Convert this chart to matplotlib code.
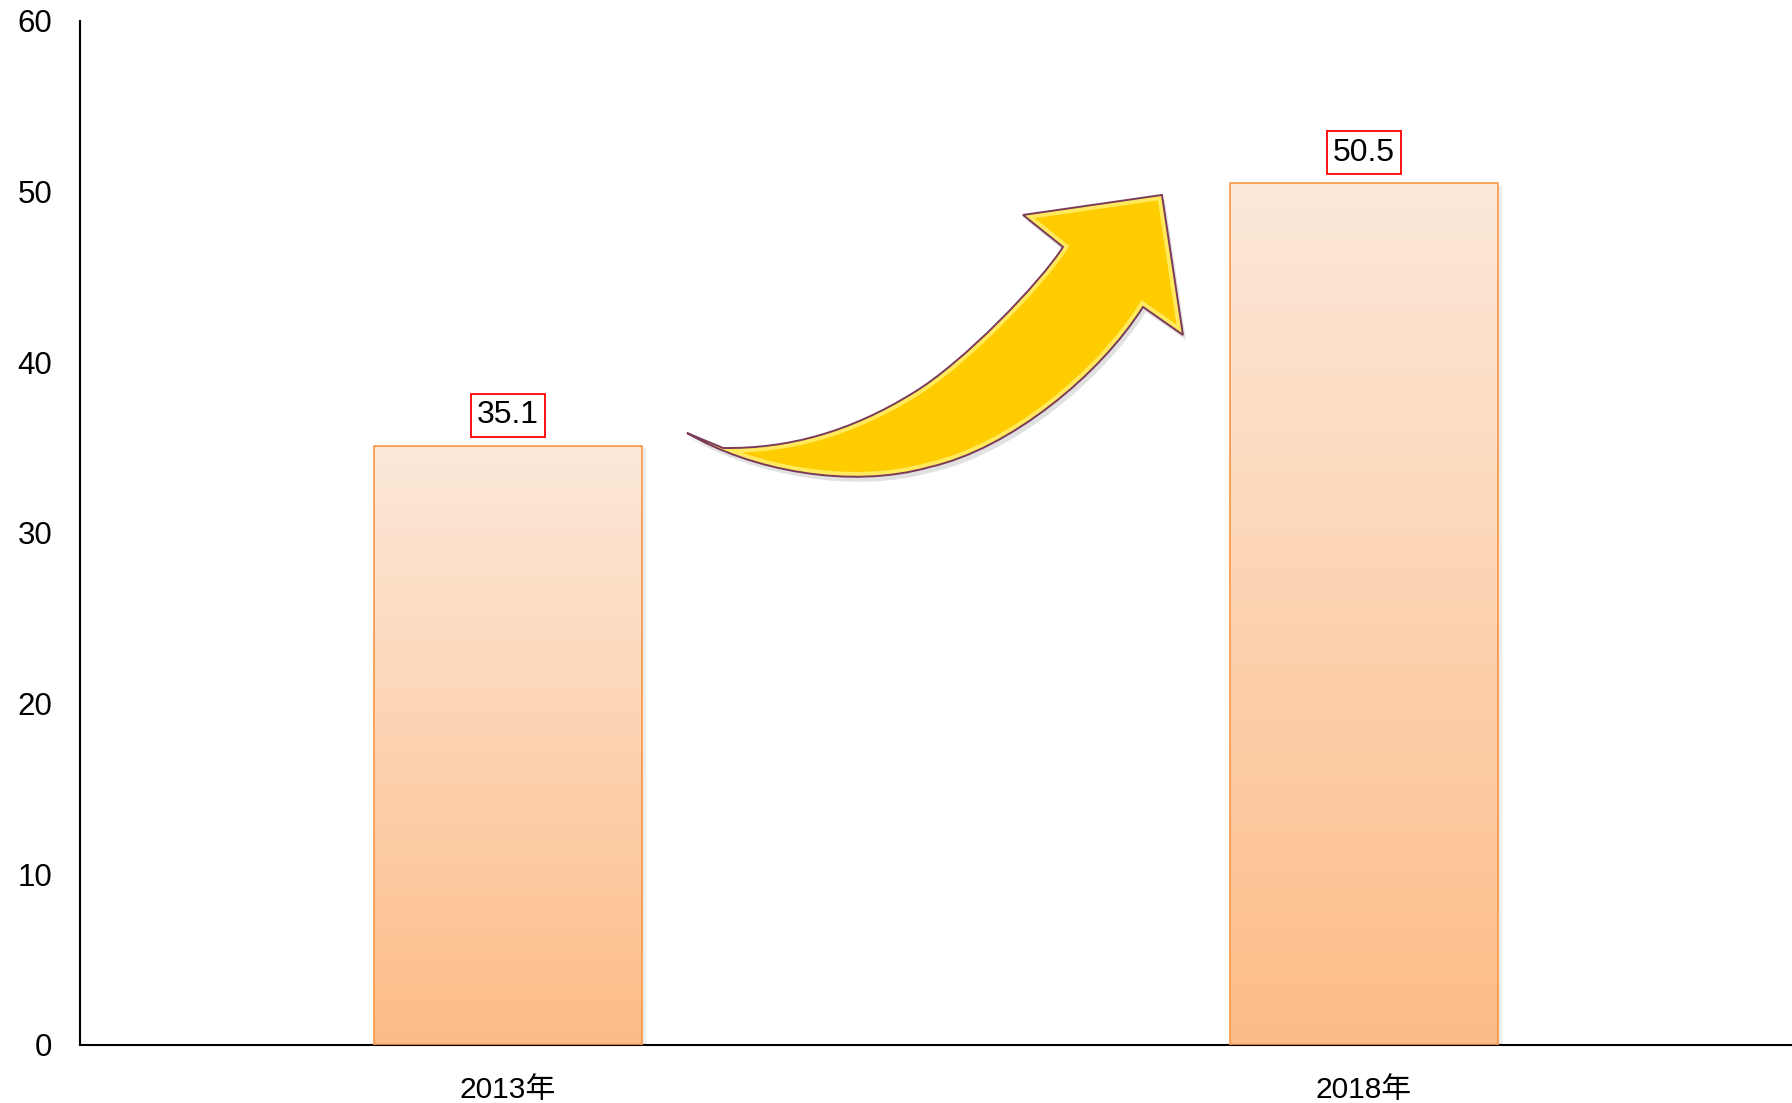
import numpy as np
import matplotlib
matplotlib.use("Agg")
import matplotlib.pyplot as plt
from matplotlib.path import Path
from matplotlib.patches import PathPatch
from matplotlib.colors import LinearSegmentedColormap
from matplotlib.transforms import ScaledTranslation

plt.rcParams['font.family'] = ['Liberation Sans', 'Noto Sans CJK SC', 'DejaVu Sans']

# data
years = ['2013年', '2018年']
values = [35.1, 50.5]
y_ticks = [0, 10, 20, 30, 40, 50, 60]

fig = plt.figure(figsize=(17.92, 11.03), dpi=100)
ax = fig.add_axes([0.0446, 0.0526, 0.9554, 0.9284])

x = np.arange(len(years))
bar_w = 0.313
bars = ax.bar(x, values, width=bar_w, color='none', edgecolor='#F79646', linewidth=1.2, zorder=3)

# vertical gradient inside each bar
cmap = LinearSegmentedColormap.from_list('peach', ['#FCBC87', '#FDE9DA'])
grad = np.linspace(0, 1, 256).reshape(-1, 1)
for b in bars:
    x0, w, h = b.get_x(), b.get_width(), b.get_height()
    # soft shadow
    ax.bar(x0 + w / 2 + 0.005, h, width=w, bottom=-0.15, color='#000000', alpha=0.07,
           linewidth=0, zorder=1)
    im = ax.imshow(grad, extent=[x0, x0 + w, 0, h], origin='lower', cmap=cmap,
                   aspect='auto', zorder=2)
    im.set_clip_path(b)

# value labels in red boxes
for xi, v in zip(x, values):
    ax.annotate(f'{v}', (xi, v), xytext=(0, 22), textcoords='offset points',
                ha='center', va='center', fontsize=23, zorder=5,
                bbox=dict(boxstyle='square,pad=0.2', fc='white', ec='red', lw=1.3))

# curved growth arrow (decoration, axes fraction)
verts = [
    (0.35456, 0.59766),
    (0.37558, 0.58301),
    (0.41355, 0.58203), (0.44977, 0.59863), (0.48657, 0.63672),
    (0.51577, 0.66602), (0.56133, 0.74512), (0.57418, 0.77930),
    (0.55082, 0.81055),
    (0.63201, 0.83008),
    (0.64428, 0.69336),
    (0.62091, 0.72070),
    (0.59579, 0.65430), (0.54322, 0.58203), (0.49650, 0.56445),
    (0.44977, 0.54199), (0.39136, 0.56152), (0.35456, 0.59766),
    (0.35456, 0.59766),
]
codes = ([Path.MOVETO, Path.LINETO] + [Path.CURVE4] * 6
         + [Path.LINETO] * 4 + [Path.CURVE4] * 6 + [Path.CLOSEPOLY])
arrow_path = Path(verts, codes)

shadow = PathPatch(arrow_path, fc='#777777', ec='none', alpha=0.22, zorder=3)
shadow.set_transform(ax.transAxes + ScaledTranslation(3 / 100, -5 / 100, fig.dpi_scale_trans))
ax.add_patch(shadow)

body = PathPatch(arrow_path, transform=ax.transAxes, fc='#FFCC00', ec='none', zorder=4)
ax.add_patch(body)
# bevel highlight along the inner edge
glow = PathPatch(arrow_path, transform=ax.transAxes, fc='none', ec='#FFE95C', lw=7, zorder=4.1)
glow.set_clip_path(body)
ax.add_patch(glow)
ax.add_patch(PathPatch(arrow_path, transform=ax.transAxes, fc='none', ec='#7A3B5A',
                       lw=1.4, zorder=4.2))

ax.set_xlim(-0.5, 1.5)
ax.set_ylim(0, 60)
ax.set_xticks(x)
ax.set_xticklabels(years)
ax.set_yticks(y_ticks)
ax.tick_params(axis='both', length=0)
ax.tick_params(axis='y', pad=20, labelsize=22.5)
ax.tick_params(axis='x', pad=22, labelsize=21.5)
for s in ['top', 'right']:
    ax.spines[s].set_visible(False)
for s in ['left', 'bottom']:
    ax.spines[s].set_linewidth(1.5)
    ax.spines[s].set_color('black')

fig.savefig('out.png', dpi=100)
